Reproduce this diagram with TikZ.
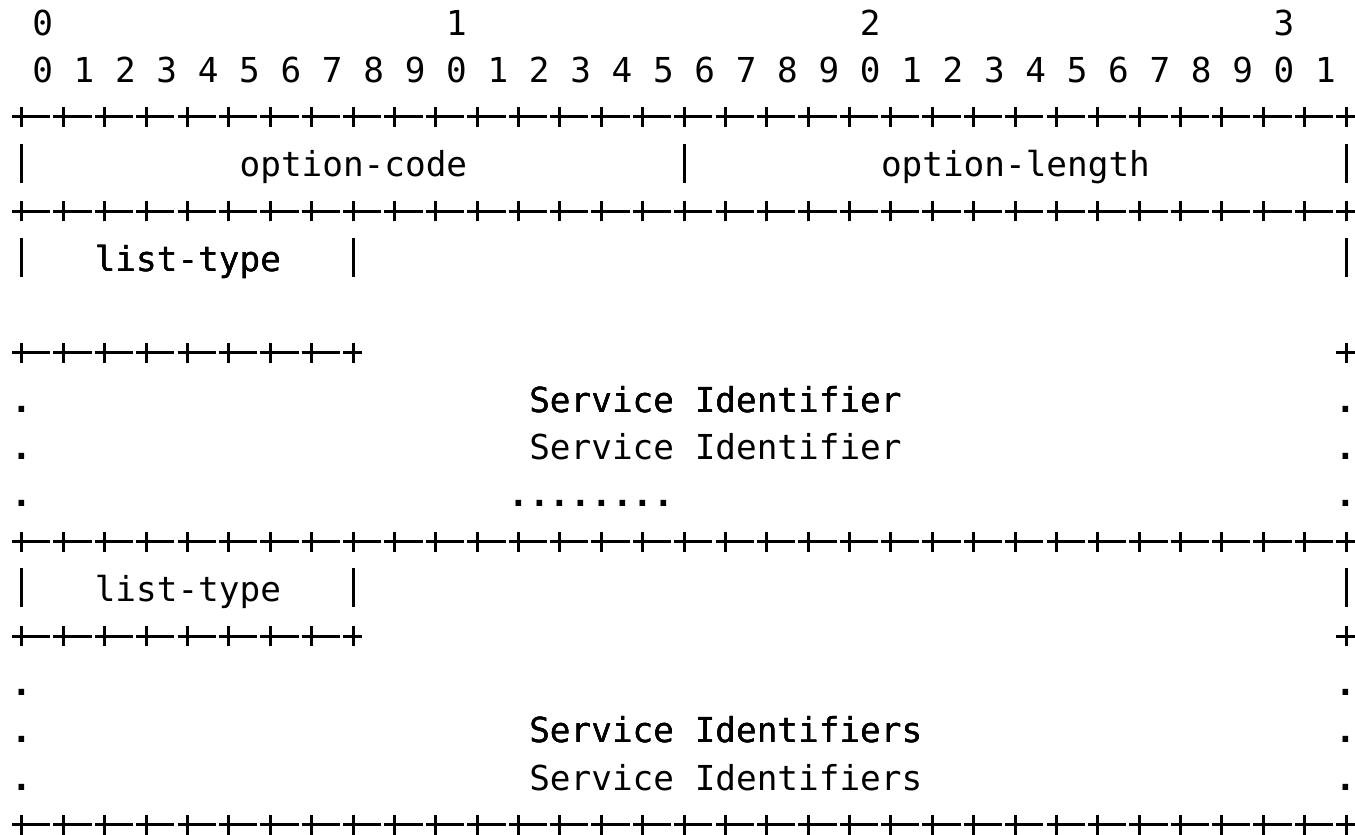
\documentclass[tikz,border=0pt]{standalone}
\usepackage{fontspec}
\newfontfamily\pkt{DejaVu Sans Mono}
\newcommand{\plusmark}[2]{% col, row
  \draw[rule] (#1-.48,.265-#2) -- (#1+.43,.265-#2) (#1,.053-#2) -- (#1,.477-#2);}
\newcommand{\plusrow}[3]{% row, first bit, last bit
  \foreach \b in {#2,...,#3}{
    \draw[rule] (2*\b-.48,.265-#1) -- (2*\b+1.37,.265-#1);
    \draw[rule] (2*\b,.053-#1) -- (2*\b,.477-#1);}
  \plusmark{2*#3+2}{#1}}
\newcommand{\pipe}[2]{\draw[rule] (#1,.699-#2) -- (#1,-.127-#2);}

\begin{document}
\begin{tikzpicture}[x=10.345pt,y=23.6pt,
    cell/.style={font=\pkt\fontsize{17.18pt}{20pt}\selectfont,inner sep=0pt,anchor=base west},
    digit/.style={cell,anchor=base},
    dot/.style={digit,font=\pkt\fontsize{17.18pt}{20pt}\selectfont\bfseries},
    rule/.style={line width=1.5pt}]
  \useasboundingbox[fill=white] (-1.063,.7415) rectangle (64.43,-16.949);
  \foreach \t in {0,...,3}
    \node[digit] (ten\t) at (20*\t+1,0) {\t};
  \foreach \i [evaluate=\i as \d using {int(mod(\i,10))}] in {0,...,31}
    \node[digit] (bit\i) at (2*\i+1,-1) {\d};
  \plusrow{2}{0}{31}
  \node[cell] (code) at (10.5,-3) {option-code};
  \node[cell] (len) at (41.5,-3) {option-length};
  \foreach \c in {0,32,64} \pipe{\c}{3}
  \plusrow{4}{0}{31}
  \node[cell] (type1) at (3.5,-5) {list-type};
  \foreach \c in {0,16,64} \pipe{\c}{5}
  \plusrow{7}{0}{7}
  \plusmark{64}{7}
  \node[cell] (sid1) at (24.5,-8) {Service Identifier};
  \node[cell] (sid2) at (24.5,-9) {Service Identifier};
  \node[dot,anchor=base west] (more) at (23.5,-10) {........};
  \plusrow{11}{0}{31}
  \node[cell] (type2) at (3.5,-12) {list-type};
  \foreach \c in {0,16,64} \pipe{\c}{12}
  \plusrow{13}{0}{7}
  \plusmark{64}{13}
  \node[cell] (sids1) at (24.5,-15) {Service Identifiers};
  \node[cell] (sids2) at (24.5,-16) {Service Identifiers};
  \foreach \r in {8,9,10,14,15,16}{
    \node[dot] (dl\r) at (0,-\r) {.};
    \node[dot] (dr\r) at (64,-\r) {.};}
  \plusrow{17}{0}{31}
\end{tikzpicture}
\end{document}
